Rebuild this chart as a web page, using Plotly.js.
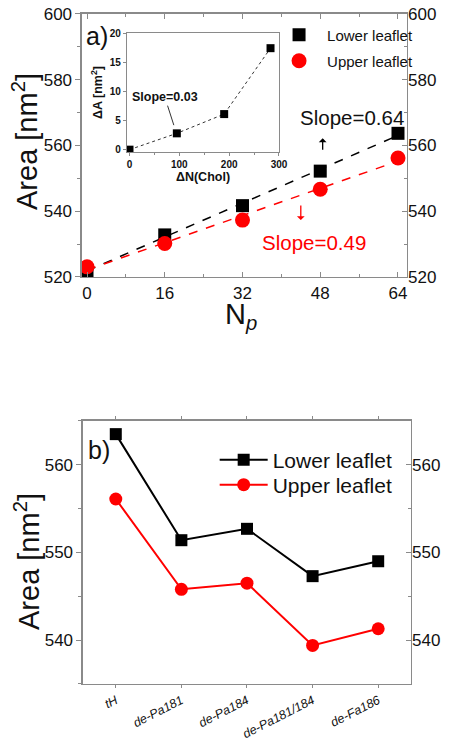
<!DOCTYPE html>
<html>
<head>
<meta charset="utf-8">
<script src="https://cdn.plot.ly/plotly-3.0.1.min.js"></script>
<style>html,body{margin:0;padding:0;background:#fff;}#chart{width:451px;height:740px;}</style>
</head>
<body>
<div id="chart"></div>
<script>
// ---- Panel a) data ----
const Np = [0, 16, 32, 48, 64];
const lowerArea = [521.9, 532.8, 541.7, 552.2, 563.7];
const upperArea = [523.1, 530.2, 537.3, 546.7, 556.2];
// ---- Inset data ----
const dNChol = [0, 95, 190, 283];
const dA = [0.0, 2.8, 6.1, 17.4];
// ---- Panel b) data ----
const variants = ['tH', 'de-Pa181', 'de-Pa184', 'de-Pa181/184', 'de-Fa186'];
const lowerAreaB = [563.5, 551.4, 552.7, 547.3, 549.0];
const upperAreaB = [556.1, 545.8, 546.5, 539.4, 541.3];
const seriesNames = ['Lower leaflet', 'Upper leaflet'];

function linfit(x, y) {
  const n = x.length;
  const mx = x.reduce((a, b) => a + b, 0) / n;
  const my = y.reduce((a, b) => a + b, 0) / n;
  let sxy = 0, sxx = 0;
  for (let i = 0; i < n; i++) { sxy += (x[i] - mx) * (y[i] - my); sxx += (x[i] - mx) ** 2; }
  const b = sxy / sxx;
  return { a: my - b * mx, b: b };
}
const fitL = linfit(Np, lowerArea), fitU = linfit(Np, upperArea);
const fitX = [Np[0], Np[Np.length - 1]];

const F = 'Arial, "Liberation Sans", sans-serif';
const AX = '#8a8a8a';
const RED = '#ff0000';

const traces = [
  {x: fitX, y: fitX.map(v => fitL.a + fitL.b * v), mode: 'lines', line: {color: '#000', dash: 'dash', width: 1.5}, showlegend: false, hoverinfo: 'skip', xaxis: 'x', yaxis: 'y'},
  {x: fitX, y: fitX.map(v => fitU.a + fitU.b * v), mode: 'lines', line: {color: RED, dash: 'dash', width: 1.5}, showlegend: false, hoverinfo: 'skip', xaxis: 'x', yaxis: 'y'},
  {x: Np, y: lowerArea, name: seriesNames[0], mode: 'markers', marker: {symbol: 'square', size: 13, color: '#000'}, xaxis: 'x', yaxis: 'y', legend: 'legend'},
  {x: Np, y: upperArea, name: seriesNames[1], mode: 'markers', marker: {symbol: 'circle', size: 15, color: RED}, xaxis: 'x', yaxis: 'y', legend: 'legend2'},
  {x: Np, y: lowerArea, mode: 'markers', marker: {opacity: 0}, showlegend: false, hoverinfo: 'skip', xaxis: 'x', yaxis: 'y2'},
  // inset
  {x: dNChol, y: dA, mode: 'lines+markers', line: {color: '#333', dash: 'dot', width: 1}, marker: {symbol: 'square', size: 8, color: '#000'}, showlegend: false, xaxis: 'x3', yaxis: 'y3'},
  // panel b
  {x: variants, y: lowerAreaB, name: seriesNames[0], mode: 'lines+markers', line: {color: '#000', width: 2}, marker: {symbol: 'square', size: 12, color: '#000'}, xaxis: 'x4', yaxis: 'y4', legend: 'legend3'},
  {x: variants, y: upperAreaB, name: seriesNames[1], mode: 'lines+markers', line: {color: RED, width: 2}, marker: {symbol: 'circle', size: 13, color: RED}, xaxis: 'x4', yaxis: 'y4', legend: 'legend4'},
  {x: variants, y: lowerAreaB, mode: 'markers', marker: {opacity: 0}, showlegend: false, hoverinfo: 'skip', xaxis: 'x4', yaxis: 'y5'}
];

const tickF = {family: F, size: 17, color: '#111'};
const insetF = {family: F, size: 10, color: '#111', weight: 'bold'};

function ann(o) { return Object.assign({xanchor: 'center', yanchor: 'middle'}, o); }

const layout = {
  width: 451, height: 740,
  margin: {l: 0, r: 0, t: 0, b: 0},
  paper_bgcolor: '#fff', plot_bgcolor: 'rgba(0,0,0,0)',
  font: {family: F, color: '#111'},
  xaxis: {domain: [0.1818, 0.9024], anchor: 'y', range: [-1.03, 65.85], tickvals: Np, ticks: 'inside', ticklen: 5, tickcolor: AX,
    minor: {ticks: 'inside', ticklen: 3, dtick: 8, tick0: 0, tickcolor: AX}, showline: true, linecolor: AX, linewidth: 1.5, mirror: 'ticks',
    showgrid: false, zeroline: false, tickfont: tickF},
  yaxis: {domain: [0.6257, 0.9811], anchor: 'x', range: [520, 600], dtick: 20, ticks: 'outside', ticklen: 5, tickcolor: AX,
    minor: {ticks: 'outside', ticklen: 3, dtick: 10, tickcolor: AX}, showline: true, linecolor: AX, linewidth: 1.5, mirror: true,
    showgrid: false, zeroline: false, tickfont: tickF},
  yaxis2: {overlaying: 'y', side: 'right', anchor: 'x', range: [520, 600], dtick: 20, ticks: 'inside', ticklen: 5, tickcolor: AX,
    minor: {ticks: 'inside', ticklen: 3, dtick: 10, tickcolor: AX}, showline: false, showgrid: false, zeroline: false, tickfont: tickF},
  xaxis3: {domain: [0.2816, 0.6186], anchor: 'y3', range: [-5, 300], dtick: 100, ticks: 'outside', ticklen: 3, tickcolor: AX,
    minor: {ticks: 'outside', ticklen: 2, dtick: 50, tickcolor: AX}, showline: true, linecolor: AX, linewidth: 1.2, mirror: true,
    showgrid: false, zeroline: false, tickfont: insetF,
    title: {text: 'ΔN(Chol)', font: {family: F, size: 12.5, weight: 'bold', color: '#111'}, standoff: 2}},
  yaxis3: {domain: [0.7946, 0.9554], anchor: 'x3', range: [-0.4, 20], dtick: 5, ticks: 'outside', ticklen: 3, tickcolor: AX,
    showline: true, linecolor: AX, linewidth: 1.2, mirror: true, showgrid: false, zeroline: false, tickfont: insetF,
    title: {text: 'ΔA [nm<sup>2</sup>]', font: {family: F, size: 12.5, weight: 'bold', color: '#111'}, standoff: 4}},
  xaxis4: {domain: [0.184, 0.9113], anchor: 'y4', type: 'category', categoryarray: variants, range: [-0.5, 4.5], tickangle: -27,
    ticks: 'outside', ticklen: 3, tickcolor: AX, showline: true, linecolor: AX, linewidth: 1.5, mirror: 'ticks',
    showgrid: false, zeroline: false, tickfont: {family: F, size: 12.5, color: '#111', style: 'italic'}},
  yaxis4: {domain: [0.0757, 0.4311], anchor: 'x4', range: [535, 565], tickvals: [540, 550, 560], ticks: 'outside', ticklen: 5, tickcolor: AX,
    minor: {ticks: 'outside', ticklen: 3, dtick: 5, tickcolor: AX}, showline: true, linecolor: AX, linewidth: 1.5, mirror: true,
    showgrid: false, zeroline: false, tickfont: tickF},
  yaxis5: {overlaying: 'y4', side: 'right', anchor: 'x4', range: [535, 565], tickvals: [540, 550, 560], ticks: 'inside', ticklen: 5, tickcolor: AX,
    minor: {ticks: 'inside', ticklen: 3, dtick: 5, tickcolor: AX}, showline: false, showgrid: false, zeroline: false, tickfont: tickF},
  legend: {x: 0.601, xanchor: 'left', y: 1 - 35 / 740, yanchor: 'middle', bgcolor: 'rgba(0,0,0,0)', itemwidth: 46,
    font: {family: F, size: 15, color: '#111'}},
  legend2: {x: 0.601, xanchor: 'left', y: 1 - 61 / 740, yanchor: 'middle', bgcolor: 'rgba(0,0,0,0)', itemwidth: 46,
    font: {family: F, size: 15, color: '#111'}},
  legend3: {x: 0.476, xanchor: 'left', y: 1 - 460 / 740, yanchor: 'middle', bgcolor: 'rgba(0,0,0,0)', itemwidth: 48,
    font: {family: F, size: 21, color: '#111'}},
  legend4: {x: 0.476, xanchor: 'left', y: 1 - 485 / 740, yanchor: 'middle', bgcolor: 'rgba(0,0,0,0)', itemwidth: 48,
    font: {family: F, size: 21, color: '#111'}},
  annotations: [
    ann({xref: 'paper', yref: 'paper', x: 25 / 451, y: 1 - 142 / 740, text: 'Area [nm<sup>2</sup>]', textangle: -90, showarrow: false,
      font: {family: F, size: 29, color: '#111'}}),
    ann({xref: 'paper', yref: 'paper', x: 27 / 451, y: 1 - 562 / 740, text: 'Area [nm<sup>2</sup>]', textangle: -90, showarrow: false,
      font: {family: F, size: 29, color: '#111'}}),
    ann({xref: 'paper', yref: 'paper', x: 241 / 451, y: 1 - 316 / 740, text: 'N<sub><i>p</i></sub>', showarrow: false,
      font: {family: F, size: 29, color: '#111'}}),
    ann({xref: 'paper', yref: 'paper', x: 97 / 451, y: 1 - 36 / 740, text: 'a)', showarrow: false, font: {family: F, size: 25, color: '#111'}}),
    ann({xref: 'paper', yref: 'paper', x: 99 / 451, y: 1 - 450 / 740, text: 'b)', showarrow: false, font: {family: F, size: 25, color: '#111'}}),
    ann({xref: 'paper', yref: 'paper', x: 352 / 451, y: 1 - 117 / 740, text: 'Slope=0.64', showarrow: false, font: {family: F, size: 20.5, color: '#111'}}),
    ann({xref: 'paper', yref: 'paper', x: 314 / 451, y: 1 - 243 / 740, text: 'Slope=0.49', showarrow: false, font: {family: F, size: 20.5, color: RED}}),
    {xref: 'x', yref: 'y', x: 48.5, y: 562.2, ax: 0, ay: 13, text: '', showarrow: true, arrowhead: 1, arrowsize: 1, arrowwidth: 1.3, arrowcolor: '#000'},
    {xref: 'x', yref: 'y', x: 44, y: 537.3, ax: 0, ay: -16, text: '', showarrow: true, arrowhead: 1, arrowsize: 1, arrowwidth: 1.3, arrowcolor: RED},
    {xref: 'x3', yref: 'y3', x: 89, y: 4.2, ax: -9, ay: -28, text: 'Slope=0.03', showarrow: true, arrowhead: 0, arrowwidth: 1, arrowcolor: '#333',
      font: {family: F, size: 12.5, weight: 'bold', color: '#111'}}
  ]
};

Plotly.newPlot('chart', traces, layout, {staticPlot: true, displayModeBar: false});
</script>
</body>
</html>
